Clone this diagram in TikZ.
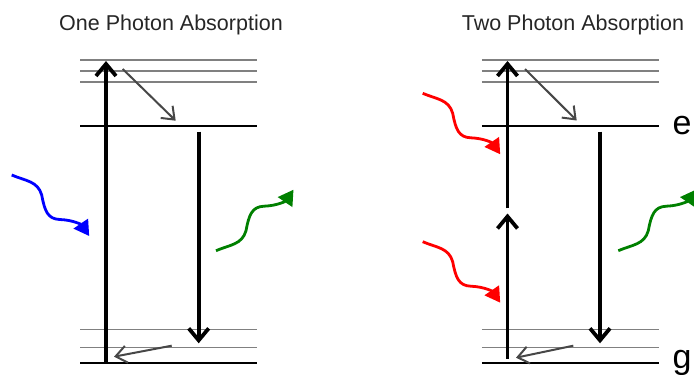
\documentclass[tikz,border=0pt]{standalone}
\usepackage{fontspec}
\setmainfont{Liberation Sans}
\usetikzlibrary{arrows.meta}
\tikzset{
  pics/wave/.style={code={
    \draw[#1, line width=2.8pt, -{Triangle[length=15pt,width=17pt]}]
      (0,0) .. controls (14,6) and (26,6) .. (30,20)
            .. controls (33,36) and (36,44) .. (48,44.5)
            .. controls (62,45) and (70,50) .. (77.5,61);
  }}
}
\begin{document}
\begin{tikzpicture}[x=1pt,y=-1pt,
  level/.style={draw=black, line width=2.3pt},
  sublevel/.style={draw=black!50, line width=1.6pt},
  pump/.style={draw=black, line width=3.8pt, -{Straight Barb[length=12pt,width=20pt]}},
  relax/.style={draw=black!72, line width=2pt, -{Straight Barb[length=11pt,width=17pt]}},
  titlelbl/.style={font=\fontsize{21.5}{24}\selectfont, text=black!85, anchor=base, inner sep=0pt},
  statelbl/.style={font=\fontsize{34}{38}\selectfont, anchor=base west, inner sep=0pt}
]
\useasboundingbox (0,0) rectangle (694,375);

% energy levels of both diagrams
\foreach \p/\s in {L/0, R/401.8}{
  \begin{scope}[xshift=\s]
    \coordinate (\p w) at (80,0);
    \coordinate (\p e) at (257,0);
    \foreach \y in {60,70.7,81.7,329.3,347.3}{
      \draw[sublevel] (80,\y) -- (257,\y);
    }
    \draw[level] (80,125.7) -- (257,125.7);
    \draw[level] (80,363.3) -- (257,363.3);
  \end{scope}
}

% titles
\node[titlelbl] (t1) at (171,30.7) {One Photon Absorption};
\node[titlelbl] (t2) at (573,30.7) {Two Photon Absorption};

% state labels
\node[statelbl] (le) at (672.5,134.5) {e};
\node[statelbl] (lg) at (672.5,368) {g};

% ---- left diagram ----
\coordinate (Lup0) at (106,362);
\coordinate (Lup1) at (106,61);
\draw[pump] (Lup0) -- (Lup1);
\coordinate (Ld0) at (122.7,69);
\coordinate (Ld1) at (175.7,120.7);
\draw[relax] (Ld0) -- (Ld1);
\coordinate (Ldn0) at (198.7,131.7);
\coordinate (Ldn1) at (198.7,343.3);
\draw[pump] (Ldn0) -- (Ldn1);
\coordinate (Lb0) at (171.7,345.7);
\coordinate (Lb1) at (114,356.7);
\draw[relax] (Lb0) -- (Lb1);
\pic at (11.7,175) {wave=blue};
\pic[yscale=-1] at (216,250.7) {wave=green!50!black};

% ---- right diagram ----
\coordinate (Rup0) at (507.5,358.5);
\coordinate (Rup1) at (507.5,213.5);
\coordinate (Rup2) at (507.5,208.3);
\coordinate (Rup3) at (507.5,61);
\draw[pump] (Rup0) -- (Rup1);
\draw[pump] (Rup2) -- (Rup3);
\coordinate (Rd0) at (525,69);
\coordinate (Rd1) at (576.7,120.5);
\draw[relax] (Rd0) -- (Rd1);
\coordinate (Rdn0) at (600,131.7);
\coordinate (Rdn1) at (600,343.3);
\draw[pump] (Rdn0) -- (Rdn1);
\coordinate (Rb0) at (573.3,345.7);
\coordinate (Rb1) at (516,357.7);
\draw[relax] (Rb0) -- (Rb1);
\pic at (422.7,93.3) {wave=red};
\pic at (422.7,241.7) {wave=red};
\pic[yscale=-1] at (618.3,250.7) {wave=green!50!black};
\end{tikzpicture}
\end{document}
